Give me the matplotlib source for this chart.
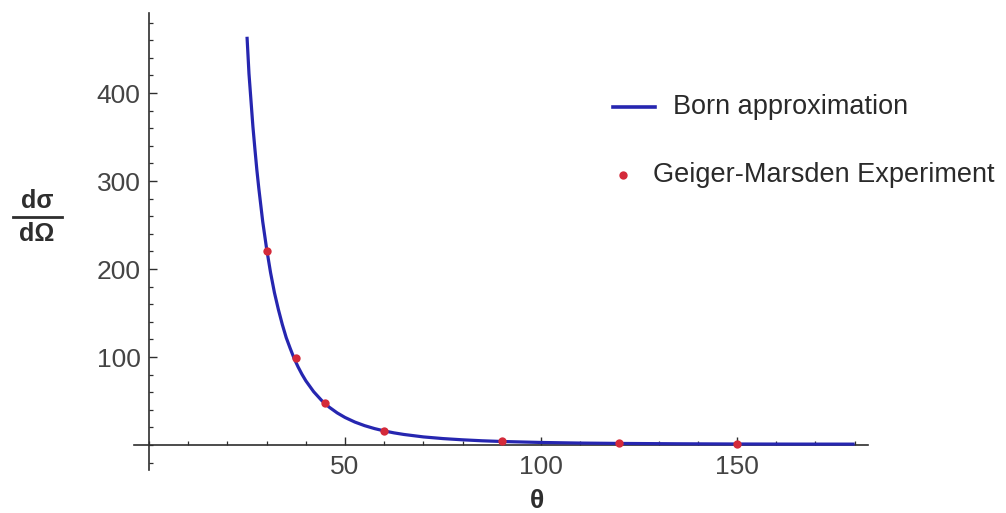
import numpy as np
import matplotlib
matplotlib.use("Agg")
import matplotlib.pyplot as plt
from matplotlib.lines import Line2D
from matplotlib.ticker import MultipleLocator, FixedLocator

plt.rcParams['font.family'] = ['Liberation Sans', 'DejaVu Sans']

# Born approximation curve, read off in degrees
theta_born = [25, 25.5, 26, 26.5, 27, 27.5, 28, 29, 30, 31, 32, 33, 34, 35, 36,
              37, 38, 39, 40, 42, 44, 46, 48, 50, 52.5, 55, 57.5, 60, 62.5, 65,
              70, 75, 80, 85, 90, 100, 110, 120, 135, 150, 165, 180]
sigma_born = [464, 422, 392, 362, 337, 313, 292, 254, 223, 196, 173, 154, 137,
              122, 110, 98.6, 89, 80.5, 73, 60.6, 50.8, 42.9, 36.5, 31.3, 26.1,
              22.0, 18.7, 16.0, 13.8, 12.0, 9.2, 7.3, 5.9, 4.8, 4.0, 2.9, 2.2,
              1.8, 1.4, 1.15, 1.03, 1.0]

# Geiger-Marsden measurements
theta_gm = [30, 37.5, 45, 60, 90, 120, 150]
sigma_gm = [221, 99, 48, 16, 4.0, 1.8, 1.15]

BLUE = '#2626b0'
RED = '#d42a3a'
AXC = '#2e2e2e'
TXT = '#444444'

W, H = 1006, 513
fig = plt.figure(figsize=(W / 100, H / 100), dpi=100)
ax = fig.add_axes([134 / W, (H - 470) / H, (868 - 134) / W, (470 - 13) / H])

ax.plot(theta_born, sigma_born, color=BLUE, lw=2.3, solid_capstyle='butt',
        solid_joinstyle='round', zorder=3)
ax.plot(theta_gm, sigma_gm, 'o', color=RED, ms=6, mec='none', zorder=4)

ax.set_xlim(-3.83, 183.4)
ax.set_ylim(-28.4, 491)

for s in ('top', 'right'):
    ax.spines[s].set_visible(False)
for s in ('left', 'bottom'):
    ax.spines[s].set_position(('data', 0))
    ax.spines[s].set_color(AXC)
    ax.spines[s].set_linewidth(1.2)

ax.xaxis.set_major_locator(FixedLocator([50, 100, 150]))
ax.xaxis.set_minor_locator(MultipleLocator(10))
ax.yaxis.set_major_locator(FixedLocator([100, 200, 300, 400]))
ax.yaxis.set_minor_locator(FixedLocator(list(range(-20, 481, 20))))

ax.tick_params(axis='both', which='major', direction='in', length=5.5, width=1.0,
               color=AXC, labelsize=19, labelcolor=TXT)
ax.tick_params(axis='both', which='minor', direction='in', length=3, width=0.9,
               color=AXC)
ax.tick_params(axis='x', which='major', pad=7)
ax.tick_params(axis='y', which='major', pad=6)

# axis labels
fig.text(537 / W, 1 - 501 / H, 'θ', fontsize=19, fontweight='bold',
         color=AXC, ha='center', va='center')
fig.text(37 / W, 1 - 201 / H, 'dσ', fontsize=18, fontweight='bold',
         color=AXC, ha='center', va='center')
fig.text(37 / W, 1 - 234 / H, 'dΩ', fontsize=18, fontweight='bold',
         color=AXC, ha='center', va='center')
fig.add_artist(Line2D([13 / W, 62 / W], [1 - 217 / H, 1 - 217 / H],
                      color=AXC, lw=2.0, transform=fig.transFigure))

# legend
fig.add_artist(Line2D([613 / W, 655 / W], [1 - 107 / H, 1 - 107 / H],
                      color=BLUE, lw=2.6, transform=fig.transFigure))
fig.text(673 / W, 1 - 107 / H, 'Born approximation', fontsize=19.5,
         color='#2a2a2a', ha='left', va='center')
fig.add_artist(Line2D([623 / W], [1 - 175 / H], marker='o', color=RED, ms=6,
                      mec='none', transform=fig.transFigure))
fig.text(653 / W, 1 - 175 / H, 'Geiger-Marsden Experiment', fontsize=19.5,
         color='#2a2a2a', ha='left', va='center')

fig.savefig('out.png', dpi=100)
